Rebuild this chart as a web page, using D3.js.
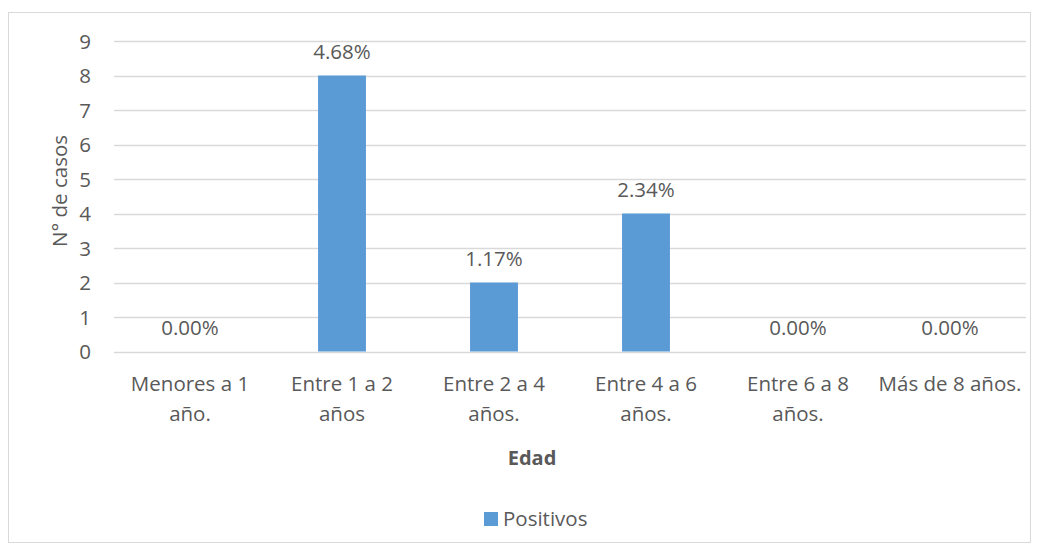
<!DOCTYPE html>
<html><head><meta charset="utf-8">
<script src="https://cdn.jsdelivr.net/npm/d3@7"></script>
<style>body{margin:0;background:#fff;} text{font-family:"Open Sans","Noto Sans",sans-serif;fill:#595959;}</style>
</head><body><svg id="c" width="1040" height="552"></svg>
<script>
const categories = [["Menores a 1","año."],["Entre 1 a 2","años"],["Entre 2 a 4","años."],["Entre 4 a 6","años."],["Entre 6 a 8","años."],["Más de 8 años."]];
const values = [0, 8, 2, 4, 0, 0];
const pctLabels = ["0.00%","4.68%","1.17%","2.34%","0.00%","0.00%"];
const yTicks = [0,1,2,3,4,5,6,7,8,9];
const seriesName = "Positivos";
const xTitle = "Edad";
const yTitle = "N° de casos";

const svg = d3.select("#c");
svg.append("rect").attr("x",8.5).attr("y",12.5).attr("width",1022).attr("height",530)
  .attr("fill","#fff").attr("stroke","#d9d9d9").attr("stroke-width",1);

const L=114, R=1026, T=41, B=351.5;
const keys = categories.map((c,i)=>i);
const x = d3.scaleBand().domain(keys).range([L,R]).paddingInner(0.685).paddingOuter(0.3425);
const xc = d3.scaleBand().domain(keys).range([L,R]).padding(0);
const y = d3.scaleLinear().domain([0,9]).range([B,T]);

const fs = 20.5;
// gridlines
svg.append("g").selectAll("line").data(yTicks).join("line")
  .attr("x1",L).attr("x2",R).attr("y1",d=>Math.round(y(d))+0.5).attr("y2",d=>Math.round(y(d))+0.5)
  .attr("stroke","#d9d9d9").attr("stroke-width",1.3);
// y labels
svg.append("g").selectAll("text").data(yTicks).join("text")
  .attr("x",91).attr("y",d=>y(d)+7.5).attr("text-anchor","end")
  .style("font-size",fs+"px").text(d=>d);
// bars
svg.append("g").selectAll("rect").data(values).join("rect")
  .attr("x",(d,i)=>x(i)).attr("width",x.bandwidth())
  .attr("y",d=>y(d)).attr("height",d=>y(0)-y(d)).attr("fill","#5b9bd5");
// data labels
svg.append("g").selectAll("text").data(values).join("text")
  .attr("x",(d,i)=>xc(i)+xc.bandwidth()/2).attr("y",d=>y(d)-16.5)
  .attr("text-anchor","middle").style("font-size",fs+"px").text((d,i)=>pctLabels[i]);
// x labels
const xl = svg.append("g").selectAll("text").data(categories).join("text")
  .attr("text-anchor","middle").style("font-size",fs+"px");
xl.each(function(c,i){
  const t=d3.select(this);
  c.forEach((line,j)=>{
    t.append("tspan").attr("x",xc(i)+xc.bandwidth()/2).attr("y",391+j*29.5).text(line);
  });
});
// axis titles
svg.append("text").attr("x",532).attr("y",465).attr("text-anchor","middle")
  .style("font-size","20px").style("font-weight","bold").text(xTitle);
svg.append("text").attr("transform","translate(67,191) rotate(-90)")
  .attr("text-anchor","middle").style("font-size",fs+"px").text(yTitle);
// legend
svg.append("rect").attr("x",484).attr("y",512).attr("width",14).attr("height",14).attr("fill","#5b9bd5");
svg.append("text").attr("x",503).attr("y",526).style("font-size",fs+"px").text(seriesName);
</script></body></html>
